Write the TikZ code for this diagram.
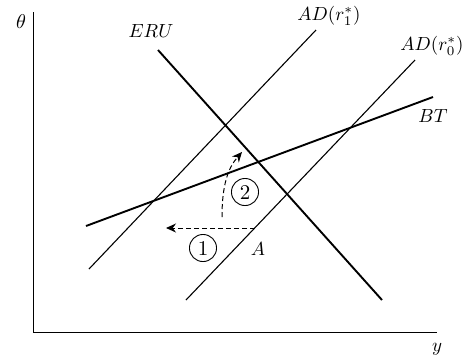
\documentclass[tikz,border=0pt]{standalone}
\usetikzlibrary{arrows.meta}
\begin{document}
\begin{tikzpicture}[x=1pt,y=-1pt,
  axis/.style={line width=0.9pt},
  thickline/.style={line width=1.9pt},
  thinline/.style={line width=1.1pt},
  move/.style={line width=1pt,dash pattern=on 5pt off 3pt,-{Stealth[length=10pt,width=9pt]}},
  lbl/.style={inner sep=0pt,scale=1.9},
  thetalbl/.style={inner sep=0pt,scale=2.0},
  circ/.style={draw,circle,line width=0.9pt,minimum size=12.9pt,inner sep=0pt,scale=2.1}]
\useasboundingbox (0,0) rectangle (466,360);
% axes
\coordinate (o) at (33,332);
\coordinate (ytop) at (33,12);
\coordinate (xend) at (437,332);
\draw[axis] (ytop) -- (o) -- (xend);
\node[thetalbl] (theta) at (21,22) {$\theta$};
\node[lbl] (ylab) at (437,349) {$y$};
% curves
\coordinate (eru1) at (158,50);
\coordinate (eru2) at (382,300);
\draw[thickline] (eru1) -- (eru2);
\node[lbl] (erulab) at (151,31) {$ERU$};
\coordinate (ad1a) at (316,30);
\coordinate (ad1b) at (89,269);
\draw[thinline] (ad1a) -- (ad1b);
\node[lbl] (ad1lab) at (329,16) {$AD(r_1^*)$};
\coordinate (ad0a) at (415,60);
\coordinate (ad0b) at (186,300);
\draw[thinline] (ad0a) -- (ad0b);
\node[lbl] (ad0lab) at (432,46) {$AD(r_0^*)$};
\coordinate (bt1) at (86,226);
\coordinate (bt2) at (433,97);
\draw[thickline] (bt1) -- (bt2);
\node[lbl] (btlab) at (433,116) {$BT$};
% moves
\coordinate (A) at (255,228);
\coordinate (left) at (166,228);
\coordinate (vstart) at (222,217);
\coordinate (vend) at (242,152);
\draw[move] (A) -- (left);
\draw[move] (vstart) .. controls (222,185) and (228,168) .. (vend);
\node[lbl] (alab) at (258,249) {$A$};
\node[circ] (c1) at (203,248) {1};
\node[circ] (c2) at (245,192) {2};
\end{tikzpicture}
\end{document}
